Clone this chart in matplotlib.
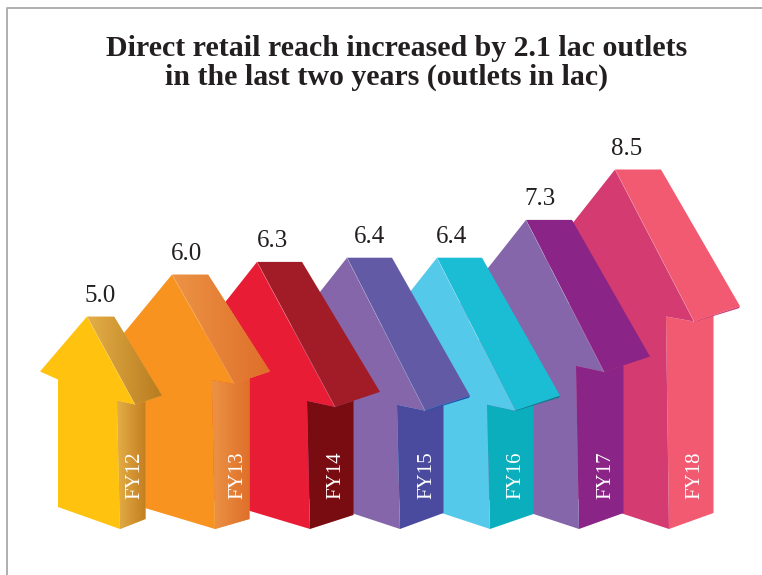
import numpy as np
import matplotlib
matplotlib.use("Agg")
import matplotlib.pyplot as plt
from matplotlib.colors import LinearSegmentedColormap
from matplotlib.patches import Polygon

years = ["FY12", "FY13", "FY14", "FY15", "FY16", "FY17", "FY18"]
outlets = [5.0, 6.0, 6.3, 6.4, 6.4, 7.3, 8.5]
value_labels = ["5.0", "6.0", "6.3", "6.4", "6.4", "7.3", "8.5"]

front_colors = ["#FFC20E", "#F7931E", "#E91C35", "#8566AB", "#54C9E9", "#8566AB", "#D43B70"]
head_colors = [("#E3AE47", "#B97C20"), ("#EC9345", "#DF6F2A"), ("#A11C26", "#A11C26"),
               ("#635AA6", "#635AA6"), ("#1BBDD4", "#1BBDD4"), ("#8A2587", "#8A2587"),
               ("#F25A72", "#F25A72")]
shaft_colors = [("#E3AE47", "#C47E20"), ("#EC9345", "#DF6F2A"), ("#780C11", "#780C11"),
                ("#4A4A9F", "#4A4A9F"), ("#0BAEBC", "#0BAEBC"), ("#8A2587", "#8A2587"),
                ("#F25A72", "#F25A72")]
rim_colors = [None, None, None, "#1F4FA8", "#0B7F8C", None, "#D43B70"]

# arrow shape, all in pixels relative to the tip
nudge = [0, -3, -6, -4, -2, -1, 0]
depth = [27, 36, 45, 45, 45, 46, 46]
head_w = [48, 62, 78, 78, 78, 78, 79]
head_h = [88, 109, 145, 153, 153, 152, 152]
notch_dx = [30, 40, 50, 50, 50, 50, 51]
notch_up = [4, 3, 6, 6, 6, 6, 5]
left_dx = [47, 60, 75, 75, 75, 75, 75]
left_dy = [55, 73, 95, 95, 95, 95, 95]
shaft_w = [62, 80, 100, 100, 100, 100, 100]
base_rise = [22, 24, 30, 33, 33, 33, 33]
side_rise = [10, 10, 14, 16, 15, 16, 16]
label_dx = [13, 15, 15, 23, 15, 14, 12]
year_dx = [18, 26, 29, 30, 29, 30, 29]

W, H = 762, 575
PX_X = 88.0   # pixels per category
PX_Y = 42.0   # pixels per lac
X0, Y0 = 87.0, 526.5  # pixel position of first category, zero outlets

fig = plt.figure(figsize=(W / 100, H / 100), dpi=100)
ax = fig.add_axes([0, 0, 1, 1])
ax.axis("off")
xlim = (-X0 / PX_X, (W - X0) / PX_X)
ylim = ((Y0 - H) / PX_Y, Y0 / PX_Y)


def to_data(x, v, pts):
    # pts are (right, down) pixel offsets from the point x, v
    return [(x + dx / PX_X, v - dy / PX_Y) for dx, dy in pts]


def shaded_face(pts, colors, z):
    poly = Polygon(pts, closed=True, fc=colors[0], ec="none", zorder=z)
    ax.add_patch(poly)
    if colors[0] != colors[1]:
        xs = [p[0] for p in pts]
        ys = [p[1] for p in pts]
        cmap = LinearSegmentedColormap.from_list("side", colors)
        im = ax.imshow(np.linspace(0, 1, 64)[None, :], cmap=cmap, aspect="auto",
                       extent=(min(xs), max(xs), min(ys), max(ys)), zorder=z + 0.1)
        im.set_clip_path(poly)


# later years sit behind earlier ones, so draw from the back
for i in range(len(years) - 1, -1, -1):
    x = i + nudge[i] / PX_X
    v = outlets[i]
    z = (len(years) - i) * 10

    wing = (head_w[i], head_h[i])
    side_wing = (head_w[i] + depth[i], head_h[i] - 15 * depth[i] / 45)
    notch = (notch_dx[i], head_h[i] - notch_up[i])
    bottom_y = 2.5 + PX_Y * v  # pixel drop from tip to arrow foot
    foot = (notch_dx[i] + 3, bottom_y)
    back_x = notch_dx[i] + depth[i] + 1.5
    # where the shaft's far edge meets the underside of the head
    t = (back_x - wing[0]) / (side_wing[0] - wing[0])
    back_top = (back_x, wing[1] + t * (side_wing[1] - wing[1]))
    back_bottom = (back_x, bottom_y - side_rise[i])

    shaded_face(to_data(x, v, [notch, wing, back_top, back_bottom, foot]), shaft_colors[i], z)
    shaded_face(to_data(x, v, [(0, 0), (depth[i], 0), side_wing, wing]), head_colors[i], z + 1)

    if rim_colors[i]:
        rim = [wing, side_wing, (side_wing[0] - 1, side_wing[1] + 2), (wing[0], wing[1] + 0.5)]
        ax.add_patch(Polygon(to_data(x, v, rim), closed=True, fc=rim_colors[i], ec="none", zorder=z + 1.5))

    tip_l = (-left_dx[i], left_dy[i])
    inner = (foot[0] - shaft_w[i], left_dy[i] + 8)
    heel = (foot[0] - shaft_w[i], bottom_y - base_rise[i])
    front = [(0, 0), wing, notch, foot, heel, inner, tip_l]
    ax.add_patch(Polygon(to_data(x, v, front), closed=True, fc=front_colors[i], ec="none", zorder=z + 2))
    ridge = to_data(x, v, [(0, 0), wing])
    ax.plot(*zip(*ridge), color="white", lw=0.5, alpha=0.25, zorder=z + 3)

    ax.text(x + label_dx[i] / PX_X, v + 21 / PX_Y, value_labels[i], family="Liberation Serif",
            fontsize=18, color="#231F20", ha="center", va="center", zorder=200)
    ax.text(x + (notch_dx[i] + year_dx[i]) / PX_X, 27.5 / PX_Y, years[i], family="Liberation Serif",
            fontsize=15, color="white", rotation=90, ha="center", va="bottom", zorder=200)

ax.set_xlim(*xlim)
ax.set_ylim(*ylim)

fig.text(397 / W, 1 - 56 / H, "Direct retail reach increased by 2.1 lac outlets",
         family="Liberation Serif", weight="bold", fontsize=21.5, color="#231F20", ha="center", va="baseline")
fig.text(386.5 / W, 1 - 85 / H, "in the last two years (outlets in lac)",
         family="Liberation Serif", weight="bold", fontsize=21.5, color="#231F20", ha="center", va="baseline")

# thin frame along the top and left
fig.add_artist(plt.Line2D([6.5 / W, 6.5 / W, 1], [0, 1 - 7.5 / H, 1 - 7.5 / H], color="#A9A9A9", lw=1.3))

fig.savefig("out.png", dpi=100)
